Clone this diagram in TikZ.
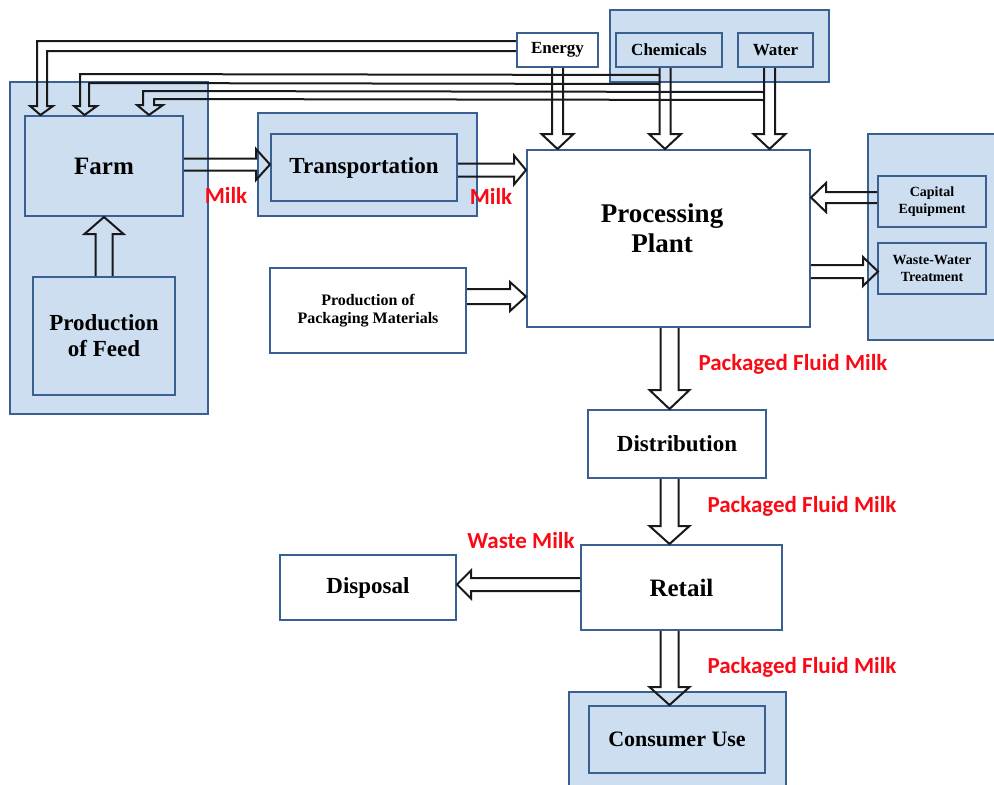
\documentclass[tikz,border=0pt]{standalone}
\usepackage{fontspec}
\setmainfont{Liberation Serif}
\newfontfamily\labfont{Carlito}
\usetikzlibrary{calc}
\definecolor{bgc}{RGB}{205,222,240}
\definecolor{bordc}{RGB}{58,95,145}
\definecolor{labred}{RGB}{250,10,20}
\newcommand\fsz[2]{\bfseries\fontsize{#1}{#2}\selectfont}
% block (hollow) arrow: start, end, half shaft, half head, head length
\newcommand\blockarrow[5]{%
  \coordinate (bah) at ($(#2)!#5!(#1)$);
  \draw[blk] ($(#1)!#3!90:(#2)$) -- ($(bah)!#3!-90:(#1)$) -- ($(bah)!#4!-90:(#1)$) -- (#2)
     -- ($(bah)!#4!90:(#1)$) -- ($(bah)!#3!90:(#1)$) -- ($(#1)!#3!-90:(#2)$);}
\begin{document}
\begin{tikzpicture}[x=1pt,y=-1pt,
  bg/.style={draw=bordc,line width=1.2pt,fill=bgc,inner sep=0pt},
  bbox/.style={draw=bordc,line width=2pt,fill=bgc,inner sep=0pt,align=center},
  wbox/.style={draw=bordc,line width=2pt,fill=white,inner sep=0pt,align=center},
  blk/.style={draw=black!90,line width=2pt,line join=miter},
  lab/.style={text=labred,inner sep=0pt,font=\labfont\fsz{23}{25}},
  ]
\useasboundingbox (0,0) rectangle (994,785);
% group backgrounds
\node[bg,minimum width=198,minimum height=332] (farmbg) at (109,248) {};
\node[bg,minimum width=219,minimum height=103] (trbg) at (367.5,164.5) {};
\node[bg,minimum width=219,minimum height=72] (chembg) at (719.5,46) {};
\node[bg,minimum width=132,minimum height=206] (capbg) at (934,237) {};
\node[bg,minimum width=217,minimum height=100] (conbg) at (677.5,742) {};
% boxes
\node[bbox,minimum width=158,minimum height=100,font=\fsz{25}{28}] (farm) at (104,166) {Farm};
\node[bbox,minimum width=142,minimum height=118,font=\fsz{23}{26}] (feed) at (104,336) {Production\\of Feed};
\node[bbox,minimum width=186,minimum height=67,font=\fsz{23}{26}] (trin) at (364,167.5) {Transportation};
\node[wbox,minimum width=283,minimum height=177] (proc) at (668.5,238.5) {};
\node[font=\fsz{27}{30},align=center,inner sep=0pt] (proctext) at (662,228) {Processing\\Plant};
\node[wbox,minimum width=81,minimum height=34,font=\fsz{17}{19}] (en) at (557.5,50) {Energy};
\node[bbox,minimum width=106,minimum height=34,font=\fsz{17}{19}] (ch) at (669,50) {Chemicals};
\node[bbox,minimum width=75,minimum height=34,font=\fsz{17}{19}] (wa) at (775.5,50) {Water};
\node[bbox,minimum width=108,minimum height=51,font=\fsz{14}{17}] (cap) at (932,201.5) {Capital\\Equipment};
\node[bbox,minimum width=108,minimum height=51,font=\fsz{14}{17}] (ww) at (932,268.5) {Waste-Water\\Treatment};
\node[wbox,minimum width=196,minimum height=85,font=\fsz{16}{18}] (pack) at (368,310.5) {Production of\\Packaging Materials};
\node[wbox,minimum width=178,minimum height=68,font=\fsz{23}{26}] (dist) at (677,444) {Distribution};
\node[wbox,minimum width=201,minimum height=85,font=\fsz{25}{28}] (retail) at (681.5,587.5) {Retail};
\node[wbox,minimum width=176,minimum height=65,font=\fsz{23}{26}] (disp) at (368,587.5) {Disposal};
\node[bbox,minimum width=176,minimum height=67,font=\fsz{22}{25}] (conin) at (677,739.5) {Consumer Use};
% arrows
\blockarrow{feed.north}{feed.north |- farm.south}{8.5pt}{19.5pt}{17pt}
\coordinate (a2s) at ($(farm.east)+(0,-1.5)$);
\blockarrow{a2s}{a2s -| trin.west}{6pt}{15.5pt}{14pt}
\coordinate (a3s) at ($(trin.east)+(0,2.5)$);
\blockarrow{a3s}{a3s -| proc.west}{6.5pt}{14.5pt}{12pt}
\blockarrow{en.south}{en.south |- proc.north}{5.5pt}{16pt}{15pt}
\coordinate (a5s) at ($(ch.south)+(-4,0)$);
\blockarrow{a5s}{a5s |- proc.north}{5.5pt}{16pt}{15pt}
\coordinate (a6s) at ($(wa.south)+(-6,0)$);
\blockarrow{a6s}{a6s |- proc.north}{5.5pt}{16pt}{15pt}
\coordinate (a7s) at ($(cap.west)+(0,-4)$);
\blockarrow{a7s}{a7s -| proc.east}{5.5pt}{14.5pt}{15pt}
\coordinate (a8e) at ($(ww.west)+(1,3)$);
\blockarrow{a8e -| proc.east}{a8e}{6.5pt}{14.5pt}{15pt}
\coordinate (a9s) at ($(pack.east)+(0,-14)$);
\blockarrow{a9s}{a9s -| proc.west}{7.5pt}{14.5pt}{16pt}
\coordinate (col) at ($(proc.south)+(1,0)$);
\blockarrow{col}{col |- dist.north}{9pt}{20pt}{19pt}
\blockarrow{col |- dist.south}{col |- retail.north}{9pt}{20pt}{18pt}
\coordinate (a12s) at ($(retail.west)+(0,-3)$);
\blockarrow{a12s}{a12s -| disp.east}{6.5pt}{14pt}{14pt}
\blockarrow{col |- retail.south}{col |- conin.north}{9pt}{20pt}{18pt}
% supply pipes to the farm
\coordinate (t1) at ($(farm.north west)+(16.5,0)$);
\coordinate (t2) at ($(farm.north west)+(60.5,0)$);
\coordinate (t3) at ($(farm.north west)+(125,0)$);
\draw[blk] ($(en.west)+(0,-9)$) -- (37,41) -- (37,106) -- (30,106) -- (t1) -- (53,106) -- (47,106) -- (47,51) -- ($(en.west)+(0,1)$);
\draw[blk] ($(a5s)+(-5.5,7)$) -- (80,74) -- (80,106) -- (74,106) -- (t2) -- (97,106) -- (89,106) -- (89,83) -- ($(a5s)+(-5.5,16)$);
\draw[blk] ($(a6s)+(-5.5,24)$) -- (143,91) -- (143,105) -- (137,105) -- (t3) -- (163,105) -- (154,105) -- (154,99) -- ($(a6s)+(-5.5,32)$);
% labels
\node[lab] (m1) at (226,195) {Milk};
\node[lab] (m2) at (491,196) {Milk};
\node[lab] (p1) at (793,364) {Packaged Fluid Milk};
\node[lab] (p2) at (802,506) {Packaged Fluid Milk};
\node[lab] (p3) at (802,667) {Packaged Fluid Milk};
\node[lab] (wm) at (521,541) {Waste Milk};
\end{tikzpicture}
\end{document}
